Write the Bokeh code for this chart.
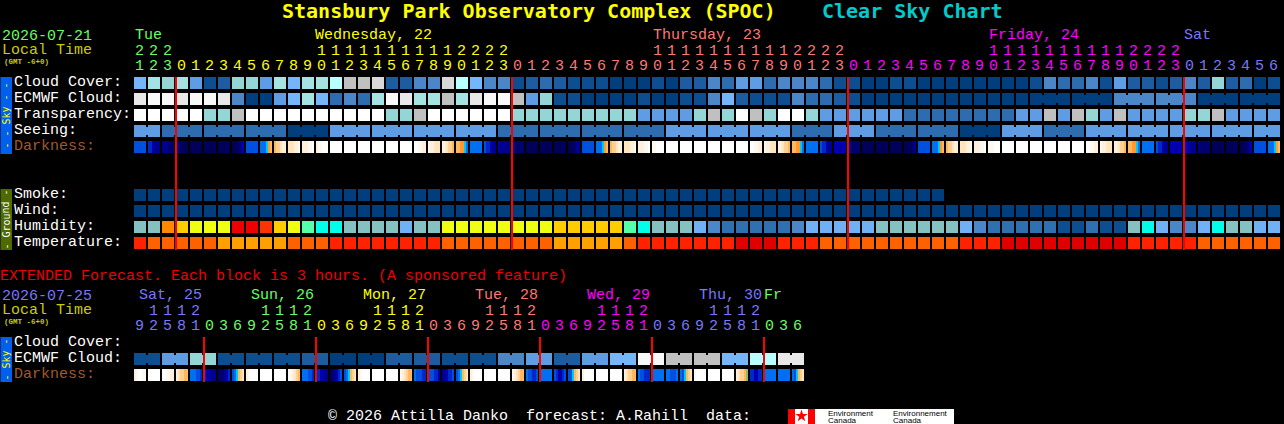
from bokeh.plotting import figure
from bokeh.models import Range1d
from bokeh.core.properties import value
from bokeh.embed import file_html
from bokeh.resources import INLINE

# ---------- data ----------
title = "Stansbury Park Observatory Complex (SPOC)"
subtitle = "Clear Sky Chart"
row_labels = ["Cloud Cover:", "ECMWF Cloud:", "Transparency:", "Seeing:", "Darkness:"]
ground_labels = ["Smoke:", "Wind:", "Humidity:", "Temperature:"]
ext_labels = ["Cloud Cover:", "ECMWF Cloud:", "Darkness:"]

hours = [21, 22, 23] + list(range(24)) + list(range(24)) + list(range(24)) + [0, 1, 2, 3, 4, 5, 6]
day_names = ["Tue", "Wednesday, 22", "Thursday, 23", "Friday, 24", "Sat"]
day_first = [0, 3, 27, 51, 75]
ext_hours = [9, 12, 15, 18, 21] + [0, 3, 6, 9, 12, 15, 18, 21] * 5 + [0, 3, 6]
ext_day_names = ["Sat, 25", "Sun, 26", "Mon, 27", "Tue, 28", "Wed, 29", "Thu, 30", "Fr"]
ext_day_first = [0, 5, 13, 21, 29, 37, 45]
ext_day_label_cell = [0, 8, 16, 24, 32, 40, 45]

cloud_cover = [6,8,7,8,5,1,2,7,7,5,8,6,8,8,9,10,10,11,2,2,4,
               4,11,9,6,4,4,
               1,2,3,2,1,1,1,0,0,0,1,0,2,2,4,3,5,5,3,4,4,4,3,1,1,
               0,0,1,1,0,0,0,0,0,0,0,0,1,4,3,3,4,1,5,2,2,1,2,4,2,7,2,3,0,1]
ecmwf = [12,13,13,12,13,13,12,4,0,0,5,6,8,6,3,4,3,8,13,12,8,
         8,10,8,12,13,13,
         10,5,7,1,1,0,0,0,0,1,0,0,1,1,4,6,2,1,1,1,4,3,3,2,1,
         0,0,0,0,0,0,0,0,0,0,0,0,
         0,0,0,0,0,0,4,4,4,4,4,4,0,0,0,0,0,0]
transparency = [14,14,14,14,14,7,7,10,14,14,14,14,14,14,14,14,14,14,7,7,10,
                14,14,14,14,14,14,
                7,7,7,7,7,7,7,7,7,5,5,5,5,7,10,7,14,10,7,14,14,7,5,5,5,
                5,5,5,3,3,3,3,3,3,3,3,5,5,10,5,10,7,5,10,5,5,5,5,7,7,10,5,5,5,5]
seeing_blocks = [5,3,3,3,0,5,5,5,5,3,3,3,3,5,5,5,3,5,3,3,0,5,3,5,5,5,5,5]
darkness = ["ffffff","eedccc","cccbbb","bbbaaa","aaaaaa","aaaaaa","aaaaaa","aaabcd","ffffff","ggghij",
            "jkklmm","lllmmn","mmmnnw","mnnwww","wwwwww","wwwwww","wwwwww","wwwwww","wwwwww","wwwwww",
            "wwnnmm","nmmlll","mmlkkj","jjiihg","gggggg","feedcc","dccccc","bbbbbb","aaaaaa","aaaaaa",
            "aaaaaa","aaabcc","ffffff","ggghij","jkklmm","lllmmn","mmmnnw","nnwwww","wwwwww","wwwwww",
            "wwwwww","wwwwww","wwwwww","wwwwww","wwnnmm","nmmlll","mmlkkj","jjiihg","gggggg","feedcc",
            "dddddd","cbbbbb","aaaaaa","aaaaaa","aaaaaa","aaaabc","ffffff","ggghij","jkklmm","lllmmn",
            "mmmnnw","nnnwww","wwwwww","wwwwww","wwwwww","wwwwww","wwwwww","wwwwww","wwnnmm","nmmlll",
            "mmlkkj","jjiihg","gggggg","feedcc","dddddd","dddccc","cbbbbb","aaaaaa","aaaaaa","aaabcd",
            "ffffff","ggghij"]
smoke = [0] * 58
wind = [0] * 82
humidity = ["t","t","o","y","Y","Y","Y","R","R","r","y","Y","g","c","c","t","t","t","t","6","t",
            "t","Y","Y","Y","Y","Y","Y","Y","Y","y","y","y","y","y","g","c","t","t","t","6","4","3","3","3","3","3","4","6","6","6","6",
            "6","t","t","t","t","t","t","6","4","3","3","3","3","3","1","1","3","1","1","t","c","6","4","4","6","c","t","t","6","6"]
temperature = ["R","o","o","o","o","o","A","A","A","A","A","o","o","o","R","R","R","R","R","R","R",
               "R","o","o","o","o","o","o","o","o","A","A","A","A","A","o","R","R","R","R","R","R","R","D","D","D","R","R","R","o","o","o",
               "o","o","o","o","o","o","o","R","R","R","D","D","D","D","D","D","D","D","D","R","R","R","R","R","o","o","o","o","o","o"]
ext_ecmwf_pairs = [1,5,7,1,1,1,2,0,0,2,2,1,1,4,5,2,5,6,13,10,10,6,9,12]
ext_darkness = ["mnwwnn","wwwwww","wwnnmm","mlkkjj","gggffe","eddccc","bbbcde","fghjkl",
                "mnwwww","wwwwww","wwwwww","nnmlkj","gggffe","eeddcc","abcdef","fghjkl",
                "mnwwww","wwwwww","wwwwww","nmlkjj","gfffee","fffeed","ccdeef","fghjkl",
                "mnwwww","wwwwww","wwwwww","nmlkjj","gffeef","gggggg","feddef","ffhjkl",
                "mwwwww","wwwwww","wwwwww","mlkkjj","gffeee","gggggg","ggfffg","gfhjkl",
                "nwwwww","wwwwww","wwwwww","mlkkjG","eeddee","gggggg","gggggg","gfhjkl"]

# ---------- styles ----------
SKY = ["#003E7E","#0D4E90","#1D5CA0","#2E6CB0","#4A86C8","#5E9CE4","#75B5FA","#94D5D5",
       "#A5E2E2","#B8FFFF","#C0C0C0","#D8D8D8","#E8E8E8","#F8F8F8","#FFFFFF"]
HUM = {"t":"#85C1C1","o":"#FF8800","y":"#FFCC00","Y":"#EEFF11","R":"#EE0000","r":"#FF3300",
       "g":"#55FFAA","c":"#00FFE8","6":"#70B0F4","4":"#4A86C8","3":"#2E70B0","1":"#0D4E90"}
TEMP = {"R":"#FF2200","o":"#FF6000","A":"#FFA000","D":"#E00000"}
DARK = {"a":"#000058","b":"#00006E","c":"#000090","d":"#0000B0","e":"#0028C8","f":"#0050E0",
        "g":"#0070F0","h":"#00C8FF","i":"#FF9A30","j":"#FFB860","k":"#FFD090","l":"#FFE4C0",
        "m":"#FFF0DE","n":"#FFF8F0","w":"#FFFFFF","G":"#88BB77"}
GREEN, YEL, SALM, MAG, BLUE = "#66FF66", "#FFFF00", "#FF7777", "#FF00FF", "#7777FF"
DAY_COL = [GREEN, YEL, SALM, MAG, BLUE]
EXT_COL = [BLUE, GREEN, YEL, SALM, MAG, BLUE, GREEN]
MONO = value("Liberation Mono")
TITLE_FONT = value("DejaVu Sans Mono")
X0, PITCH, CELL = 134, 14, 12
W, H = 1284, 424

# half-pixel range offset: the canvas itself is translated by half a pixel
p = figure(width=W, height=H, x_range=Range1d(0.5, W + 0.5), y_range=Range1d(H + 0.5, 0.5),
           output_backend="svg", toolbar_location=None, min_border=0,
           background_fill_color="black", border_fill_color="black",
           x_axis_location=None, y_axis_location=None,
           styles={"background-color": "black"})
p.grid.visible = False
p.outline_line_color = None


def cells(colors, y):
    xs = [X0 + PITCH * i for i in range(len(colors))]
    p.quad(left=xs, right=[x + CELL for x in xs], top=y, bottom=y + CELL,
           fill_color=colors, line_color=None)


def bridges(colors, y, links):
    xs = [X0 + PITCH * i + CELL for i in links]
    p.quad(left=xs, right=[x + 2 for x in xs], top=y + 2, bottom=y + 10,
           fill_color=[colors[i] for i in links], line_color=None)


def stripes(codes, y):
    lefts, rights, cols = [], [], []
    step = CELL // 6
    for i, s in enumerate(codes):
        j = 0
        while j < len(s):
            k = j
            while k + 1 < len(s) and s[k + 1] == s[j]:
                k += 1
            lefts.append(X0 + PITCH * i + j * step)
            rights.append(X0 + PITCH * i + (k + 1) * step)
            cols.append(DARK[s[j]])
            j = k + 1
    p.quad(left=lefts, right=rights, top=y, bottom=y + CELL, fill_color=cols, line_color=None)


def text(xs, ys, labels, color, size="15px", style="normal", font=MONO, angle=0, align="left"):
    p.text(x=xs, y=ys, text=labels, text_color=color, text_font=font,
           text_font_size=size, text_font_style=style, text_baseline="alphabetic",
           text_align=align, angle=angle)


# ---------- title ----------
text([282], [11], [title], "#FFFF00", "20px", "bold", font=TITLE_FONT)
text([822], [11], [subtitle], "#00CCCC", "20px", "bold", font=TITLE_FONT)

# ---------- main header ----------
text([2], [35], ["2026-07-21"], GREEN)
text([2], [50], ["Local Time"], "#CCCC00")
text([4], [62], ["(GMT -6+0)"], "#CCCC00", "7.5px", "bold")
day_x = [X0 + 1, X0 + PITCH * 13 - 1, X0 + PITCH * 37 + 1, X0 + PITCH * 61 + 1, X0 + PITCH * 75]
for nm, x, c in zip(day_names, day_x, DAY_COL):
    text([x], [35], [nm], c)


def hour_color(i):
    c = DAY_COL[0]
    for f, col in zip(day_first, DAY_COL):
        if i >= f:
            c = col
    return c


centers = [X0 + PITCH * i + 5.5 for i in range(len(hours))]
hcol = [hour_color(i) for i in range(len(hours))]
text(centers, [65] * len(hours), [str(h % 10) for h in hours], hcol, align="center")
t = [i for i, h in enumerate(hours) if h >= 10]
text([centers[i] for i in t], [50] * len(t), [str(hours[i] // 10) for i in t],
     [hcol[i] for i in t], align="center")

# ---------- row labels ----------
for k, lb in enumerate(row_labels):
    text([14], [82 + 16 * k], [lb], "#A0592C" if lb == "Darkness:" else "#FFFFFF")
for k, lb in enumerate(ground_labels):
    text([14], [194 + 16 * k], [lb], "#FFFFFF")

# ---------- main rows ----------
cc = [SKY[v] for v in cloud_cover]
cells(cc, 77)
ec = [SKY[v] for v in ecmwf]
cells(ec, 93)
bridges(ec, 93, [i for i in range(64, 81) if (i - 64) % 3 != 2])
cells([SKY[v] for v in transparency], 109)
see_starts = [0] + list(range(2, 82, 3))
see_vals = []
for k, v in enumerate(seeing_blocks):
    end = see_starts[k + 1] if k + 1 < len(see_starts) else 82
    see_vals += [v] * (end - see_starts[k])
sc = [SKY[v] for v in see_vals]
cells(sc, 125)
bridges(sc, 125, [i for i in range(81) if (i + 1) not in see_starts])
stripes(darkness, 141)

cells([SKY[v] for v in smoke], 189)
cells([SKY[v] for v in wind], 205)
cells([HUM[v] for v in humidity], 221)
cells([TEMP[v] for v in temperature], 237)

# ---------- side bars ----------
p.quad(left=[0, 0, 0], right=[12, 12, 12], top=[77, 189, 337], bottom=[154, 250, 382],
       fill_color=["#0060EE", "#4F6A00", "#0060EE"], line_color=None)
r = 1.5708
text([6], [115.5], ["- - Sky - -"], "#FFFF00", "10px", angle=r, align="center", font=TITLE_FONT)
text([6], [219.5], ["- Ground -"], "#FFFFFF", "10px", angle=r, align="center", font=TITLE_FONT)
text([6], [359.5], ["- Sky -"], "#FFFF00", "10px", angle=r, align="center", font=TITLE_FONT)

# ---------- midnight lines ----------
mid = [X0 + PITCH * i for i, h in enumerate(hours) if h == 0]
p.segment(x0=mid, x1=mid, y0=77, y1=250, line_color="#FF0000", line_width=2)

# ---------- extended ----------
text([0], [276], ["EXTENDED Forecast. Each block is 3 hours. (A sponsored feature)"], "#EE0000")
text([2], [295], ["2026-07-25"], BLUE)
text([2], [310], ["Local Time"], "#CCCC00")
text([4], [322], ["(GMT -6+0)"], "#CCCC00", "7.5px", "bold")
for nm, f, c in zip(ext_day_names, ext_day_label_cell, EXT_COL):
    x = X0 + PITCH * f + (5 if nm != "Fr" else 0)
    text([x], [295], [nm], c)


def ext_color(i):
    c = EXT_COL[0]
    for f, col in zip(ext_day_first, EXT_COL):
        if i >= f:
            c = col
    return c


ecx = [X0 + PITCH * i + 5.5 for i in range(len(ext_hours))]
ecol = [ext_color(i) for i in range(len(ext_hours))]
text(ecx, [325] * len(ext_hours), [str(h % 10) for h in ext_hours], ecol, align="center")
t = [i for i, h in enumerate(ext_hours) if h >= 10]
text([ecx[i] for i in t], [310] * len(t), [str(ext_hours[i] // 10) for i in t],
     [ecol[i] for i in t], align="center")
for k, lb in enumerate(ext_labels):
    text([14], [342 + 16 * k], [lb], "#A0592C" if lb == "Darkness:" else "#FFFFFF")

ext_ec = [SKY[v] for v in ext_ecmwf_pairs for _ in (0, 1)]
cells(ext_ec, 353)
bridges(ext_ec, 353, list(range(0, 47, 2)))
stripes(ext_darkness, 369)
emid = [X0 + PITCH * i for i, h in enumerate(ext_hours) if h == 0]
p.segment(x0=emid, x1=emid, y0=337, y1=382, line_color="#FF0000", line_width=2)

# ---------- footer ----------
text([328, 526, 706], [416] * 3, ["\u00a9 2026 Attilla Danko", "forecast: A.Rahill", "data:"], "#FFFFFF")
p.quad(left=[788], right=[954], top=[409], bottom=[424], fill_color="#FFFFFF", line_color=None)
p.quad(left=[788, 808], right=[795, 815], top=[409, 409], bottom=[424, 424], fill_color="#FF0000", line_color=None)
p.scatter(x=[801.5], y=[416], marker="star", size=13, fill_color="#FF0000", line_color=None)
sans = value("Liberation Sans")
text([828, 828, 893, 893], [413, 420, 413, 420], ["Environment", "Canada", "Environnement", "Canada"],
     "#000000", "8px", font=sans)

open("out.html", "w").write(file_html(p, INLINE))
